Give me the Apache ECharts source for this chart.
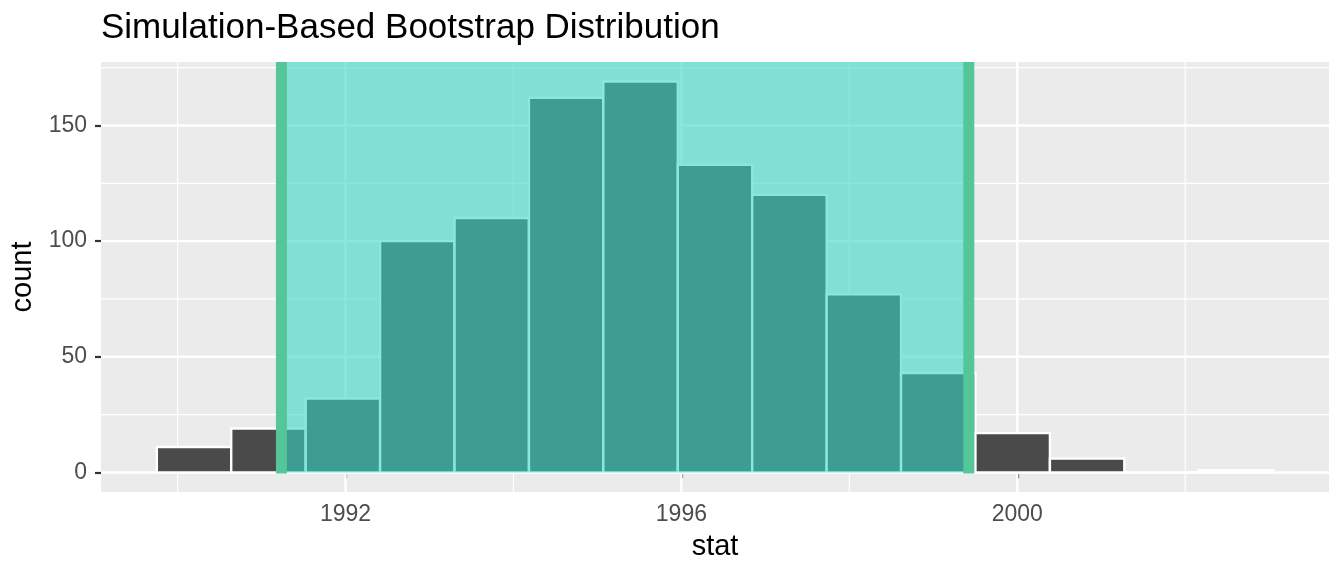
<!DOCTYPE html>
<html>
<head>
<meta charset="utf-8">
<script src="https://cdn.jsdelivr.net/npm/echarts@6/dist/echarts.min.js"></script>
<style>
html, body { margin: 0; padding: 0; background: #fff; }
#main { width: 1344px; height: 576px; }
</style>
</head>
<body>
<div id="main"></div>
<script>
// histogram bins (edges) and counts
var binEdges = [1989.752, 1990.638, 1991.525, 1992.411, 1993.298, 1994.184, 1995.070, 1995.957,
                1996.843, 1997.730, 1998.616, 1999.502, 2000.389, 2001.275, 2002.162, 2003.048];
var counts = [11, 19, 32, 100, 110, 162, 169, 133, 120, 77, 43, 17, 6, 0, 1];
// confidence interval endpoints
var ciBounds = [1991.236, 1999.423];

var xTicks = [1992, 1996, 2000];
var xMinor = [1990, 1994, 1998, 2002];
var yTicks = [0, 50, 100, 150];
var yMinor = [25, 75, 125, 175];
var xRange = [1989.087, 2003.713];
var yRange = [-8.45, 177.45];

var FONT = '"Liberation Sans", Arial, sans-serif';

var barData = counts.map(function (c, i) { return [binEdges[i], binEdges[i + 1], c]; });
var vGrid = xTicks.map(function (v) { return [v, 1]; }).concat(xMinor.map(function (v) { return [v, 0]; }));
var hGrid = yTicks.map(function (v) { return [0, v, 1]; }).concat(yMinor.map(function (v) { return [0, v, 0]; }));

var chart = echarts.init(document.getElementById('main'));

chart.setOption({
    animation: false,
    title: {
        text: 'Simulation-Based Bootstrap Distribution',
        left: 96,
        top: 6,
        textStyle: { fontFamily: FONT, fontSize: 35, fontWeight: 'normal', color: '#000' }
    },
    grid: {
        left: 101, right: 15, top: 62, bottom: 84,
        show: true, backgroundColor: '#EBEBEB', borderWidth: 0
    },
    xAxis: {
        type: 'value',
        min: xRange[0],
        max: xRange[1],
        name: 'stat',
        nameLocation: 'middle',
        nameGap: 40,
        nameTextStyle: { fontFamily: FONT, fontSize: 29, color: '#000' },
        axisLine: { show: false },
        axisTick: { show: true, length: 6, customValues: xTicks, lineStyle: { color: '#333', width: 2.2 } },
        axisLabel: {
            customValues: xTicks, fontFamily: FONT, fontSize: 23, color: '#4D4D4D', margin: 11,
            formatter: function (v) { return String(v); }
        },
        splitLine: { show: false }
    },
    yAxis: {
        type: 'value',
        min: yRange[0],
        max: yRange[1],
        name: 'count',
        nameLocation: 'middle',
        nameRotate: 90,
        nameGap: 58,
        nameTextStyle: { fontFamily: FONT, fontSize: 29, color: '#000' },
        axisLine: { show: false },
        axisTick: { show: true, length: 6, customValues: yTicks, lineStyle: { color: '#333', width: 2.2 } },
        axisLabel: {
            customValues: yTicks, fontFamily: FONT, fontSize: 23, color: '#4D4D4D', margin: 14,
            formatter: function (v) { return String(v); }
        },
        splitLine: { show: false }
    },
    series: [
        {
            // vertical grid lines
            type: 'custom', silent: true, z: 1,
            data: vGrid,
            renderItem: function (params, api) {
                var x = api.coord([api.value(0), 0])[0];
                var cs = params.coordSys;
                return {
                    type: 'line',
                    shape: { x1: x, y1: cs.y, x2: x, y2: cs.y + cs.height },
                    style: { stroke: '#fff', lineWidth: api.value(1) ? 2.4 : 1.2 }
                };
            }
        },
        {
            // horizontal grid lines
            type: 'custom', silent: true, z: 1,
            data: hGrid,
            renderItem: function (params, api) {
                var y = api.coord([xRange[0], api.value(1)])[1];
                var cs = params.coordSys;
                return {
                    type: 'line',
                    shape: { x1: cs.x, y1: y, x2: cs.x + cs.width, y2: y },
                    style: { stroke: '#fff', lineWidth: api.value(2) ? 2.4 : 1.2 }
                };
            }
        },
        {
            // histogram bars
            type: 'custom', silent: true, z: 2,
            data: barData,
            encode: { x: [0, 1], y: 2 },
            renderItem: function (params, api) {
                var p0 = api.coord([api.value(0), api.value(2)]);
                var p1 = api.coord([api.value(1), 0]);
                return {
                    type: 'rect',
                    shape: { x: p0[0], y: p0[1], width: p1[0] - p0[0], height: p1[1] - p0[1] },
                    style: { fill: '#4A4A4A', stroke: '#fff', lineWidth: 2.4 }
                };
            }
        },
        {
            // CI shading
            type: 'custom', silent: true, z: 3,
            data: [ciBounds],
            renderItem: function (params, api) {
                var cs = params.coordSys;
                var a = api.coord([api.value(0), 0]);
                var b = api.coord([api.value(1), 0]);
                return {
                    type: 'rect',
                    shape: { x: a[0], y: cs.y, width: b[0] - a[0], height: a[1] - cs.y },
                    style: { fill: 'rgba(53,216,194,0.59)' }
                };
            }
        },
        {
            // CI endpoint lines
            type: 'custom', silent: true, z: 4,
            data: ciBounds.map(function (v) { return [v, 0]; }),
            renderItem: function (params, api) {
                var cs = params.coordSys;
                var p = api.coord([api.value(0), 0]);
                return {
                    type: 'line',
                    shape: { x1: p[0], y1: p[1] + 1, x2: p[0], y2: cs.y },
                    style: { stroke: '#55C59A', lineWidth: 11 }
                };
            }
        }
    ]
});
</script>
</body>
</html>
